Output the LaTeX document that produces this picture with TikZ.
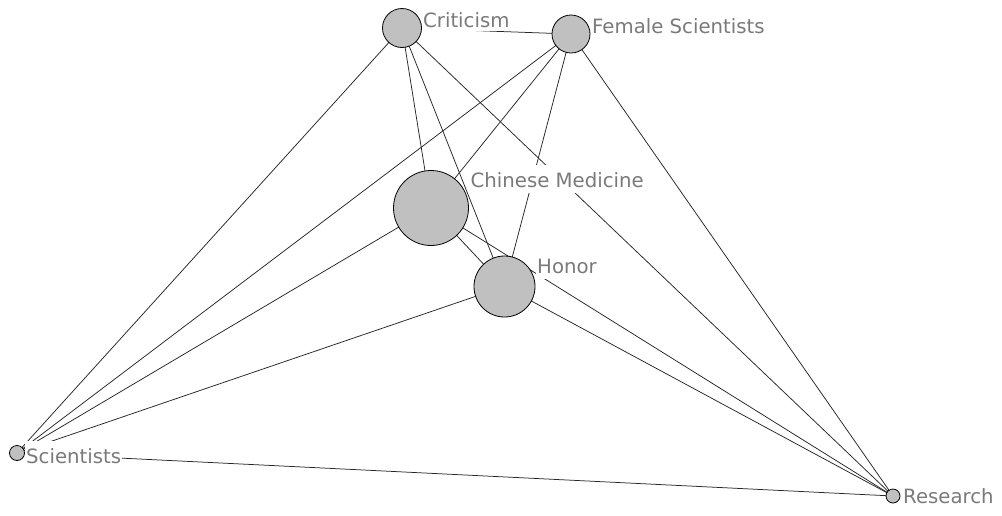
\documentclass[tikz,border=0pt]{standalone}
\usepackage{fontspec}
\setmainfont{DejaVu Sans}
\definecolor{nodefill}{HTML}{C0C0C0}
\definecolor{labelgray}{HTML}{7A7A7A}
\pgfdeclarelayer{bg}
\pgfsetlayers{bg,main}
\begin{document}
\begin{tikzpicture}[x=1pt,y=-1pt,
  vertex/.style={circle,draw=black,line width=0.8pt,fill=nodefill,inner sep=0pt,minimum size=#1},
  lbl/.style={anchor=base west,fill=white,text=labelgray,inner xsep=1pt,inner ysep=1pt,
    text height=21pt,text depth=4.5pt,font=\fontsize{19.7}{24}\selectfont},
  link/.style={draw=black!85,line width=0.75pt}]
\begin{pgfonlayer}{bg}
\useasboundingbox[fill=white] (0,0) rectangle (1002,515);
\end{pgfonlayer}
% nodes
\node[vertex=39pt] (C) at (402,28) {};
\node[vertex=38pt] (F) at (571,34) {};
\node[vertex=75pt] (M) at (431,208) {};
\node[vertex=61pt] (H) at (504.5,286.5) {};
\node[vertex=15pt] (S) at (17,453) {};
\node[vertex=14pt] (R) at (893,496) {};
% labels
\node[lbl,text depth=3pt] (Cl) at (422,27) {Criticism};
\node[lbl] (Fl) at (591,33) {Female Scientists};
\node[lbl] (Ml) at (469.5,187) {Chinese Medicine};
\node[lbl] (Hl) at (536,273) {Honor};
\node[lbl] (Sl) at (25,463) {Scientists};
\node[lbl] (Rl) at (902,503) {Research};
% edges
\begin{pgfonlayer}{bg}
\foreach \a/\b in {C/F,C/S,C/M,C/H,C/R,F/S,F/M,F/H,F/R,M/S,M/H,M/R,H/S,H/R,S/R}
  \draw[link] (\a.center) -- (\b.center);
\end{pgfonlayer}
\end{tikzpicture}
\end{document}
